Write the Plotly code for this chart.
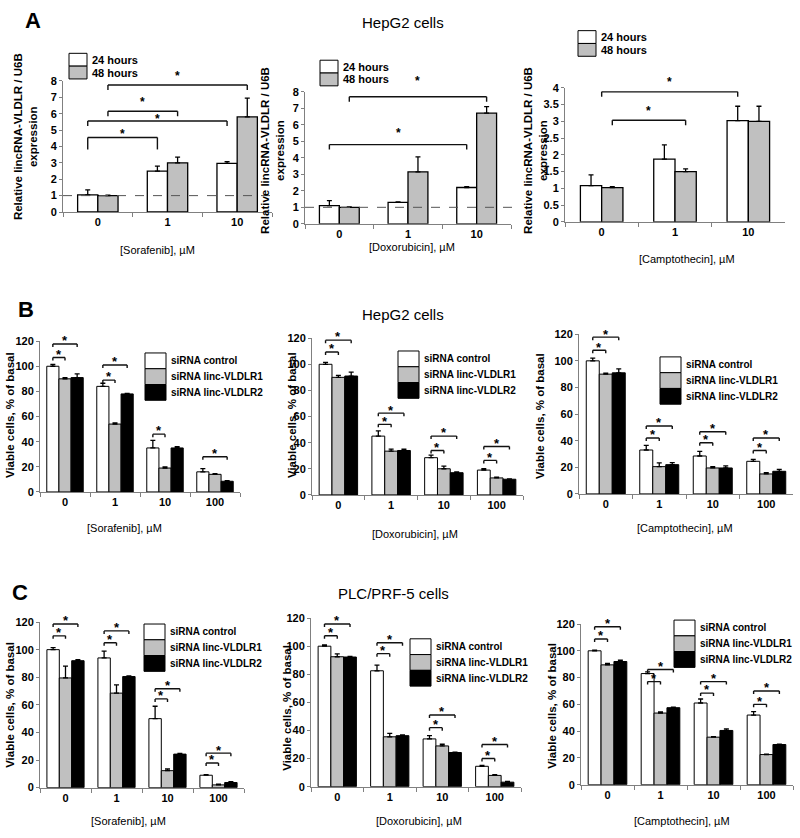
import plotly.graph_objects as go

W, H = 800, 838
FONT = "Arial, 'Liberation Sans', sans-serif"

# ---------------- data ----------------
A_DOSES = ["0", "1", "10"]
A_SERIES = ["24 hours", "48 hours"]

sorA_24 = [1.05, 2.5, 2.97]
sorA_24_err = [0.3, 0.3, 0.1]
sorA_48 = [1.0, 3.0, 5.8]
sorA_48_err = [0.03, 0.35, 1.15]

doxA_24 = [1.1, 1.3, 2.2]
doxA_24_err = [0.3, 0.03, 0.05]
doxA_48 = [1.0, 3.15, 6.7]
doxA_48_err = [0.02, 0.9, 0.4]

camA_24 = [1.08, 1.87, 3.02]
camA_24_err = [0.32, 0.43, 0.43]
camA_48 = [1.02, 1.5, 3.0]
camA_48_err = [0.03, 0.08, 0.45]

A_BASELINE = 1.0

BC_DOSES = ["0", "1", "10", "100"]
BC_SERIES = ["siRNA control", "siRNA linc-VLDLR1", "siRNA linc-VLDLR2"]

# B: HepG2 cells
sorB_ctrl = [100, 84, 35, 16]
sorB_ctrl_err = [1.5, 2.5, 6, 2.5]
sorB_v1 = [90, 54, 19, 14]
sorB_v1_err = [1, 1, 1, 0.5]
sorB_v2 = [91, 78, 35, 8.5]
sorB_v2_err = [3, 0.5, 1, 0.5]

doxB_ctrl = [100, 45, 28.5, 19]
doxB_ctrl_err = [1.5, 4, 2, 1]
doxB_v1 = [90, 33.5, 20, 13]
doxB_v1_err = [1.5, 1.5, 2, 0.5]
doxB_v2 = [91, 34, 17, 12]
doxB_v2_err = [3, 1, 0.7, 0.3]

camB_ctrl = [100, 33, 28.5, 24.5]
camB_ctrl_err = [2, 3.5, 3.5, 1.5]
camB_v1 = [90, 20.5, 19.5, 15]
camB_v1_err = [0.8, 2.8, 1, 1]
camB_v2 = [91, 22, 19.5, 17]
camB_v2_err = [3, 1.5, 1.5, 1.5]

# C: PLC/PRF-5 cells
sorC_ctrl = [100, 94, 50, 9]
sorC_ctrl_err = [1.5, 5, 9, 0.5]
sorC_v1 = [79.5, 68.5, 12.3, 2]
sorC_v1_err = [8.5, 6, 1.2, 0.5]
sorC_v2 = [92, 80.5, 24.3, 3.7]
sorC_v2_err = [0.7, 0.5, 0.5, 0.7]

doxC_ctrl = [100, 82.5, 34, 14.5]
doxC_ctrl_err = [1, 4, 2.3, 0.7]
doxC_v1 = [92.5, 35.5, 29, 8]
doxC_v1_err = [2, 2.5, 1.2, 0.5]
doxC_v2 = [92.3, 36.3, 24.3, 3.2]
doxC_v2_err = [0.5, 0.5, 0.3, 0.5]

camC_ctrl = [100, 83, 61, 52]
camC_ctrl_err = [0.5, 1.2, 3, 2.5]
camC_v1 = [89.5, 53.5, 35.5, 22.5]
camC_v1_err = [1, 0.8, 0.4, 0.3]
camC_v2 = [92, 57.5, 40.5, 30]
camC_v2_err = [1, 0.5, 1.2, 0.3]

# significance brackets: (group_from, series_from, group_to, series_to, level)
sigA_sor = [(0, 1, 2, 1, 7.75), (0, 1, 1, 1, 6.15), (0, 0, 2, 0, 5.55), (0, 0, 1, 0, 4.55)]
sigA_dox = [(0, 1, 2, 1, 7.7), (0, 0, 2, 0, 4.8)]
sigA_cam = [(0, 1, 2, 0.5, 4.52), (0, 0.5, 2, 0, 3.88), (0, 1, 1, 1, 3.03)]

sigB_sor = [(0, 0, 0, 1, 107), (0, 0, 0, 2, 117.7), (1, 0, 1, 1, 89), (1, 0, 1, 2, 101),
            (2, 0, 2, 1, 46), (3, 0, 3, 2, 28)]
sigB_dox = [(0, 0, 0, 1, 109.4), (0, 0, 0, 2, 118.5), (1, 0, 1, 1, 54), (1, 0, 1, 2, 62.6),
            (2, 0, 2, 1, 34), (2, 0, 2, 2, 45), (3, 0, 3, 1, 26.4), (3, 0, 3, 2, 37)]
sigB_cam = [(0, 0, 0, 1, 108), (0, 0, 0, 2, 117.8), (1, 0, 1, 1, 42), (1, 0, 1, 2, 51),
            (2, 0, 2, 1, 38.5), (2, 0, 2, 2, 46.7), (3, 0, 3, 1, 32.6), (3, 0, 3, 2, 42)]
sigC_sor = [(0, 0, 0, 1, 110), (0, 0, 0, 2, 118.6), (1, 0, 1, 1, 105), (1, 0, 1, 2, 113.6),
            (2, 0, 2, 1, 64.3), (2, 0, 2, 2, 71.7), (3, 0, 3, 1, 17.9), (3, 0, 3, 2, 25)]
sigC_dox = [(0, 0, 0, 1, 107.4), (0, 0, 0, 2, 115.8), (1, 0, 1, 1, 94.7), (1, 0, 1, 2, 102.5),
            (2, 0, 2, 1, 42), (2, 0, 2, 2, 51), (3, 0, 3, 1, 20), (3, 0, 3, 2, 30)]
sigC_cam = [(0, 0, 0, 1, 108.8), (0, 0, 0, 2, 118), (1, 0, 1, 1, 77), (1, 0, 1, 2, 86),
            (2, 0, 2, 1, 68.4), (2, 0, 2, 2, 77), (3, 0, 3, 1, 60), (3, 0, 3, 2, 70)]

A_YTITLE = "Relative lincRNA-VLDLR / U6B<br>expression"
BC_YTITLE = "Viable cells, % of basal"

# ---------------- styles / layout ----------------
A_COLORS = ["#ffffff", "#c0c0c0"]
BC_COLORS = ["#ffffff", "#c0c0c0", "#000000"]
AXIS_GREY = "#808080"

A_STYLE = dict(w=0.29, legs=5, star_size=12, star_lift=12, star_weight="bold",
               leg_font=11, box=(18, 13), rng=(0, 8), dtick=1, bar_line=1.3)
BC_STYLE = dict(w=0.243, legs=3, star_size=13, star_lift=6, star_weight="bold",
                leg_font=10, box=(21, 16), rng=(0, 120), dtick=20, bar_line=1)

panels = [
    dict(dom=(63, 272, 76, 209), style=A_STYLE, cats=A_DOSES, names=A_SERIES, colors=A_COLORS,
         vals=[sorA_24, sorA_48], errs=[sorA_24_err, sorA_48_err], sig=sigA_sor,
         leg_override={3: 12}, lift_override={2: 5, 3: 6}, baseline=True,
         ytitle=A_YTITLE, ytxy=(25, 133), xtitle="[Sorafenib], \u00b5M", xtxy=(157, 248),
         legxy=(69, 48)),
    dict(dom=(305, 511, 87, 221), style=A_STYLE, cats=A_DOSES, names=A_SERIES, colors=A_COLORS,
         vals=[doxA_24, doxA_48], errs=[doxA_24_err, doxA_48_err], sig=sigA_dox,
         leg_override={}, lift_override={0: 18, 1: 14}, baseline=True,
         ytitle=A_YTITLE, ytxy=(273, 147), xtitle="[Doxorubicin], \u00b5M", xtxy=(412, 244),
         legxy=(320, 55)),
    dict(dom=(565, 785, 83, 219), style=dict(A_STYLE, rng=(0, 4), dtick=0.5), cats=A_DOSES,
         names=A_SERIES, colors=A_COLORS,
         vals=[camA_24, camA_48], errs=[camA_24_err, camA_48_err], sig=sigA_cam,
         leg_override={}, lift_override={}, baseline=False,
         ytitle=A_YTITLE, ytxy=(536, 147), xtitle="[Camptothecin], \u00b5M", xtxy=(687, 257),
         legxy=(578, 25)),
    dict(dom=(40, 240, 340, 493), style=BC_STYLE, cats=BC_DOSES, names=BC_SERIES, colors=BC_COLORS,
         vals=[sorB_ctrl, sorB_v1, sorB_v2], errs=[sorB_ctrl_err, sorB_v1_err, sorB_v2_err],
         sig=sigB_sor, leg_override={}, lift_override={}, baseline=False,
         ytitle=BC_YTITLE, ytxy=(10, 415), xtitle="[Sorafenib], \u00b5M", xtxy=(124, 530),
         legxy=(145, 352)),
    dict(dom=(312, 523, 337, 496), style=BC_STYLE, cats=BC_DOSES, names=BC_SERIES, colors=BC_COLORS,
         vals=[doxB_ctrl, doxB_v1, doxB_v2], errs=[doxB_ctrl_err, doxB_v1_err, doxB_v2_err],
         sig=sigB_dox, leg_override={}, lift_override={}, baseline=False,
         ytitle=BC_YTITLE, ytxy=(292, 415), xtitle="[Doxorubicin], \u00b5M", xtxy=(415, 536),
         legxy=(398, 350)),
    dict(dom=(579, 793, 333, 495), style=BC_STYLE, cats=BC_DOSES, names=BC_SERIES, colors=BC_COLORS,
         vals=[camB_ctrl, camB_v1, camB_v2], errs=[camB_ctrl_err, camB_v1_err, camB_v2_err],
         sig=sigB_cam, leg_override={}, lift_override={}, baseline=False,
         ytitle=BC_YTITLE, ytxy=(540, 416), xtitle="[Camptothecin], \u00b5M", xtxy=(685, 530),
         legxy=(660, 356)),
    dict(dom=(40, 244, 625, 793), style=BC_STYLE, cats=BC_DOSES, names=BC_SERIES, colors=BC_COLORS,
         vals=[sorC_ctrl, sorC_v1, sorC_v2], errs=[sorC_ctrl_err, sorC_v1_err, sorC_v2_err],
         sig=sigC_sor, leg_override={}, lift_override={}, baseline=False,
         ytitle=BC_YTITLE, ytxy=(10, 709), xtitle="[Sorafenib], \u00b5M", xtxy=(128, 827),
         legxy=(144, 627)),
    dict(dom=(311, 521, 621, 792), style=BC_STYLE, cats=BC_DOSES, names=BC_SERIES, colors=BC_COLORS,
         vals=[doxC_ctrl, doxC_v1, doxC_v2], errs=[doxC_ctrl_err, doxC_v1_err, doxC_v2_err],
         sig=sigC_dox, leg_override={}, lift_override={}, baseline=False,
         ytitle=BC_YTITLE, ytxy=(287, 712), xtitle="[Doxorubicin], \u00b5M", xtxy=(419, 827),
         legxy=(410, 642)),
    dict(dom=(581, 793, 627, 790), style=BC_STYLE, cats=BC_DOSES, names=BC_SERIES, colors=BC_COLORS,
         vals=[camC_ctrl, camC_v1, camC_v2], errs=[camC_ctrl_err, camC_v1_err, camC_v2_err],
         sig=sigC_cam, leg_override={}, lift_override={}, baseline=False,
         ytitle=BC_YTITLE, ytxy=(552, 710), xtitle="[Camptothecin], \u00b5M", xtxy=(682, 827),
         legxy=(674, 623)),
]

headers = [
    dict(text="<b>A</b>", xy=(33, 15), size=22),
    dict(text="<b>B</b>", xy=(26, 308), size=22),
    dict(text="<b>C</b>", xy=(20, 595), size=22),
    dict(text="HepG2 cells", xy=(403, 17), size=15),
    dict(text="HepG2 cells", xy=(403, 313), size=15),
    dict(text="PLC/PRF-5 cells", xy=(393, 596), size=15),
]


def px(x):
    return x / W


def py(y):
    return 1 - y / H


fig = go.Figure()
shapes = []
annotations = []
layout_axes = {}

for i, p in enumerate(panels, start=1):
    st = p["style"]
    xa = "x" if i == 1 else f"x{i}"
    ya = "y" if i == 1 else f"y{i}"
    xname = "xaxis" if i == 1 else f"xaxis{i}"
    yname = "yaxis" if i == 1 else f"yaxis{i}"
    n = len(p["vals"])
    w = st["w"]
    x0, x1, ytop, ybot = p["dom"]

    for k in range(n):
        fig.add_trace(go.Bar(
            x=p["cats"], y=p["vals"][k], name=p["names"][k],
            width=w, offset=-n * w / 2 + k * w,
            marker=dict(color=p["colors"][k], line=dict(color="black", width=st["bar_line"])),
            error_y=dict(type="data", symmetric=False, array=p["errs"][k],
                         arrayminus=[0] * len(p["errs"][k]), color="black",
                         thickness=1.3, width=2.5),
            xaxis=xa, yaxis=ya, showlegend=False, hoverinfo="x+y+name",
        ))

    tickfont = dict(family=FONT, size=11, color="black", weight="bold")
    layout_axes[xname] = dict(
        domain=[px(x0), px(x1)], anchor=ya, type="category",
        showline=True, linecolor=AXIS_GREY, linewidth=1,
        ticks="outside", tickson="boundaries", ticklen=4, tickcolor=AXIS_GREY,
        tickfont=tickfont, showgrid=False, zeroline=False, fixedrange=True,
        range=[-0.5, len(p["cats"]) - 0.5],
    )
    layout_axes[yname] = dict(
        domain=[py(ybot), py(ytop)], anchor=xa, range=list(st["rng"]), dtick=st["dtick"],
        tick0=0, showline=True, linecolor=AXIS_GREY, linewidth=1,
        ticks="outside", ticklen=3, tickcolor=AXIS_GREY,
        tickfont=tickfont, showgrid=False, zeroline=False, fixedrange=True,
    )

    if p["baseline"]:
        shapes.append(dict(type="line", xref=f"{xa} domain", yref=ya, x0=0, x1=1.02,
                           y0=A_BASELINE, y1=A_BASELINE,
                           line=dict(color="#555555", width=1, dash="dash")))

    def slot_x(group, slot):
        return group - n * w / 2 + (slot + 0.5) * w

    for j, (ga, sa, gb, sb, lvl) in enumerate(p["sig"]):
        xa0 = slot_x(ga, sa)
        xa1 = slot_x(gb, sb)
        leg = p["leg_override"].get(j, st["legs"])
        line = dict(color="#111111", width=1.4)
        shapes.append(dict(type="line", xref=xa, yref=ya, x0=xa0, x1=xa1, y0=lvl, y1=lvl, line=line))
        for xx in (xa0, xa1):
            shapes.append(dict(type="line", xref=xa, yref=ya, x0=xx, x1=xx,
                               ysizemode="pixel", yanchor=lvl, y0=0, y1=-leg, line=line))
        lift = p["lift_override"].get(j, st["star_lift"])
        annotations.append(dict(
            xref=xa, yref=ya, x=(xa0 + xa1) / 2, y=lvl, text="*", showarrow=False,
            xanchor="center", yanchor="middle", yshift=lift - 0.22 * st["star_size"],
            font=dict(family=FONT, size=st["star_size"], color="#000000", weight=st["star_weight"]),
        ))

    # axis titles
    annotations.append(dict(
        xref="paper", yref="paper", x=px(p["ytxy"][0]), y=py(p["ytxy"][1]),
        text=p["ytitle"], textangle=-90, showarrow=False, xanchor="center", yanchor="middle",
        font=dict(family=FONT, size=11.5, color="black", weight="bold"),
    ))
    annotations.append(dict(
        xref="paper", yref="paper", x=px(p["xtxy"][0]), y=py(p["xtxy"][1]),
        text=p["xtitle"], showarrow=False, xanchor="center", yanchor="middle",
        font=dict(family=FONT, size=11, color="black"),
    ))

    # legend boxes
    bw, bh = st["box"]
    lx, ly = p["legxy"]
    for k in range(n):
        top = ly + k * bh
        shapes.append(dict(type="rect", xref="paper", yref="paper",
                           x0=px(lx), x1=px(lx + bw), y0=py(top + bh), y1=py(top),
                           fillcolor=p["colors"][k], line=dict(color="black", width=1)))
        annotations.append(dict(
            xref="paper", yref="paper", x=px(lx + bw + 3), y=py(top + bh / 2),
            text=p["names"][k], showarrow=False, xanchor="left", yanchor="middle",
            font=dict(family=FONT, size=st["leg_font"], color="black", weight="bold"),
        ))

for h in headers:
    annotations.append(dict(
        xref="paper", yref="paper", x=px(h["xy"][0]), y=py(h["xy"][1]), text=h["text"],
        showarrow=False, xanchor="center", yanchor="middle",
        font=dict(family=FONT, size=h["size"], color="black"),
    ))

fig.update_layout(
    width=W, height=H, margin=dict(l=0, r=0, t=0, b=0),
    paper_bgcolor="white", plot_bgcolor="white",
    barmode="group", showlegend=False,
    shapes=shapes, annotations=annotations,
    font=dict(family=FONT, color="black"),
    **layout_axes,
)

fig.write_html(
    "out.html",
    config=dict(displayModeBar=False),
    post_script="document.body.style.margin='0px';document.body.style.overflow='hidden';",
)
